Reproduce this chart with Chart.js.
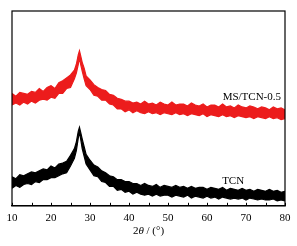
<!DOCTYPE html>
<html><head><meta charset="utf-8">
<script src="https://cdn.jsdelivr.net/npm/chart.js@4"></script>
<style>html,body{margin:0;padding:0;background:#fff}#wrap{width:297px;height:246px}</style>
</head><body><div id="wrap"><canvas id="c"></canvas></div>
<script>
const twoTheta = [10,11,12,13,14,15,16,17,18,19,20,21,22,23,24,25,26,26.5,27,27.3,27.6,28,28.5,29,30,31,32,33,34,35,36,37,38,39,40,41,42,43,44,45,46,47,48,49,50,51,52,53,54,55,56,57,58,59,60,61,62,63,64,65,66,67,68,69,70,71,72,73,74,75,76,77,78,79,80];
// noise band (upper / lower envelope) of each pattern, intensity a.u.
const msTcnUpper = [116,113,117,116,115,118,117,121,118,122,124,121,127,129,132,135,140,146,156,160,155,148,142,134,130,125,122,120,119,115,114,111,110,108,108,106,107,105,108,105,106,104,107,105,104,107,104,105,105,103,106,104,103,105,102,104,104,102,105,102,103,101,104,102,101,103,102,100,102,101,99,102,100,101,99];
const msTcnLower = [104,106,104,107,105,108,106,109,110,109,112,111,116,116,121,122,131,137,146,153,146,139,131,124,120,114,113,109,109,105,104,100,100,97,99,96,98,96,95,97,95,96,94,96,95,94,96,94,95,93,95,94,93,95,92,94,93,92,94,92,93,91,93,92,91,92,90,92,91,90,92,90,91,89,90];
const tcnUpper = [30,28,32,31,33,35,34,36,38,37,41,39,43,44,46,52,59,66,77,81,76,69,61,53,47,42,40,36,34,31,30,27,27,25,25,23,23,21,23,21,20,22,19,21,20,19,21,19,20,18,20,18,19,19,17,19,18,17,19,16,18,17,16,18,16,17,15,17,16,15,17,15,16,14,15];
const tcnLower = [18,21,19,22,23,22,25,24,27,27,29,29,31,33,34,41,49,57,70,76,69,59,51,43,37,31,30,25,24,20,20,16,17,14,15,12,14,12,11,12,10,12,10,11,11,9,11,10,9,11,8,10,9,8,10,8,9,7,9,8,7,8,7,8,6,8,7,6,7,6,6,7,5,6,5];
const xTicks = [10,20,30,40,50,60,70,80];
const seriesLabels = ['MS/TCN-0.5','TCN'];
const labelPos = [[71.5,112],[66.7,25.5]];

const pts = arr => twoTheta.map((x,i)=>({x:x,y:arr[i]}));

const deco = {
  id:'deco',
  afterDraw(chart){
    const {ctx, chartArea:a, scales:{x,y}} = chart;
    ctx.save();
    ctx.strokeStyle='#000'; ctx.lineWidth=1.2;
    ctx.strokeRect(a.left, a.top, a.right-a.left, a.bottom-a.top);
    ctx.lineWidth=1;
    for(let v=10; v<=80; v+=5){
      const px = Math.round(x.getPixelForValue(v))+0.5;
      ctx.beginPath(); ctx.moveTo(px,a.bottom); ctx.lineTo(px,a.bottom-3); ctx.stroke();
    }
    ctx.fillStyle='#000';
    ctx.font='11px "Liberation Serif"';
    ctx.textAlign='center'; ctx.textBaseline='middle';
    seriesLabels.forEach((t,i)=>{
      ctx.fillText(t, x.getPixelForValue(labelPos[i][0]), y.getPixelForValue(labelPos[i][1]));
    });
    const parts=[['2','11px "Liberation Serif"'],['θ','italic 11px "Liberation Serif"'],[' / (°)','11px "Liberation Serif"']];
    let w=0; parts.forEach(p=>{ctx.font=p[1]; w+=ctx.measureText(p[0]).width;});
    let cx=(a.left+a.right)/2 - w/2; const cy=a.bottom+25;
    ctx.textAlign='left';
    parts.forEach(p=>{ctx.font=p[1]; ctx.fillText(p[0],cx,cy); cx+=ctx.measureText(p[0]).width;});
    ctx.restore();
  }
};

const red='#ec1c1c';
new Chart(document.getElementById('c'),{
  type:'line',
  data:{datasets:[
    {label:seriesLabels[0]+' max', data:pts(msTcnUpper), borderColor:red, backgroundColor:red, borderWidth:1.2, pointRadius:0, tension:0, fill:'+1'},
    {label:seriesLabels[0]+' min', data:pts(msTcnLower), borderColor:red, borderWidth:1.2, pointRadius:0, tension:0, fill:false},
    {label:seriesLabels[1]+' max', data:pts(tcnUpper), borderColor:'#000', backgroundColor:'#000', borderWidth:1.2, pointRadius:0, tension:0, fill:'+1'},
    {label:seriesLabels[1]+' min', data:pts(tcnLower), borderColor:'#000', borderWidth:1.2, pointRadius:0, tension:0, fill:false}
  ]},
  options:{
    responsive:true, maintainAspectRatio:false, animation:false,
    layout:{padding:{left:12,right:12,top:11,bottom:15}},
    plugins:{legend:{display:false},tooltip:{enabled:false}},
    scales:{
      x:{type:'linear',min:10,max:80,
        afterBuildTicks:s=>{s.ticks=xTicks.map(v=>({value:v}));},
        grid:{display:true,drawOnChartArea:false,drawTicks:false},
        border:{display:true,color:'#000',width:1.2},
        ticks:{color:'#000',padding:6,maxRotation:0,font:{family:'Liberation Serif',size:11}}
      },
      y:{min:0,max:201,display:false}
    }
  },
  plugins:[deco]
});
</script></body></html>
